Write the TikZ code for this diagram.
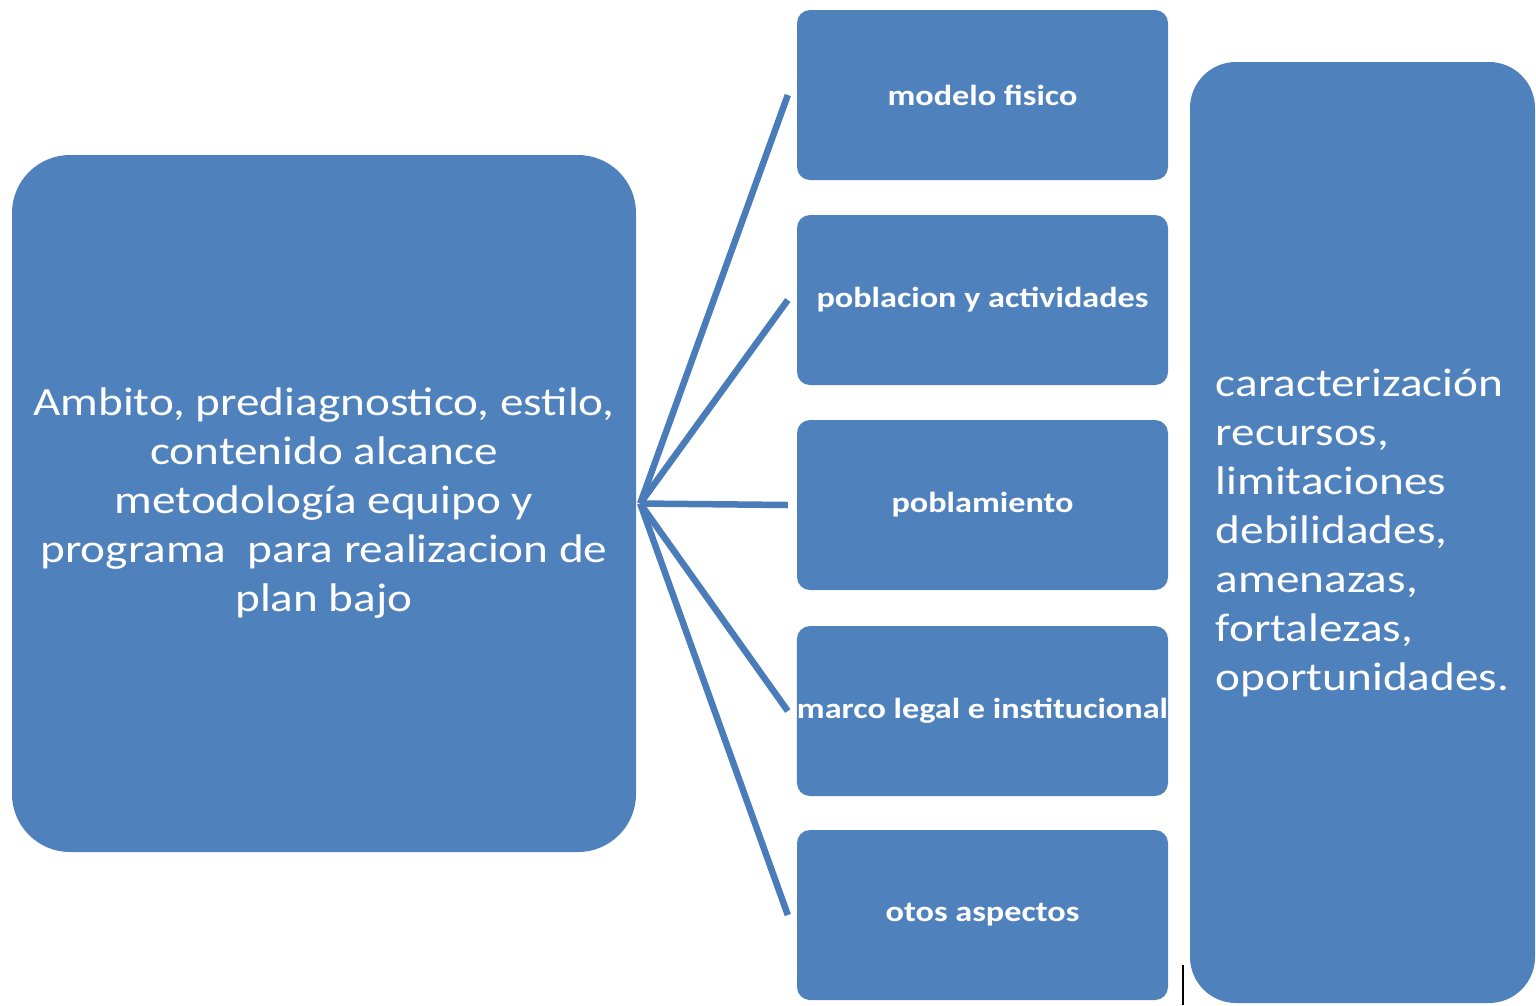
\documentclass[tikz,border=0pt]{standalone}
\usepackage{fontspec}
\setmainfont{Carlito}[FakeStretch=1.18]
\definecolor{boxblue}{HTML}{4F81BD}
\definecolor{lineblue}{HTML}{4A7CB9}
\begin{document}
\begin{tikzpicture}[x=1pt,y=-1pt,
  bigbox/.style={draw=none,fill=boxblue,text=white,rounded corners=58pt,inner sep=0pt,
    font=\fontsize{40}{49}\selectfont},
  smallbox/.style={draw=none,fill=boxblue,text=white,rounded corners=13pt,inner sep=0pt,
    minimum width=371pt,minimum height=170pt,font=\fontsize{29}{35}\selectfont\bfseries},
  conn/.style={draw=lineblue,line width=6.5pt}]
\useasboundingbox (0,0) rectangle (1536,1005);
\node[bigbox,minimum width=624pt,minimum height=697pt,align=center] (left) at (324,503.5)
  {Ambito, prediagnostico, estilo,\\contenido alcance\\metodología equipo y\\programa\ \ para realizacion de\\plan bajo};
\node[smallbox] (b1) at (982.5,95) {modelo fisico};
\node[smallbox] (b2) at (982.5,300) {\raisebox{-4pt}{poblacion y actividades}};
\node[smallbox] (b3) at (982.5,505) {poblamiento};
\node[smallbox] (b4) at (982.5,711) {marco legal e institucional};
\node[smallbox] (b5) at (982.5,915) {otos aspectos};
\node[bigbox,rounded corners=46pt,minimum width=345pt,minimum height=941pt,align=left] (right) at (1362.5,532.5)
  {caracterización\\recursos,\\limitaciones\\debilidades,\\amenazas,\\fortalezas,\\oportunidades.};
\coordinate (hub) at ([xshift=4pt]left.east);
\foreach \b in {b1,b2,b3,b4,b5}{
  \draw[conn] (hub) -- ([xshift=-9pt]\b.west);
}
\coordinate (tickTop) at (1183,965);
\coordinate (tickBot) at (1183,1005);
\draw[black,line width=2pt] (tickTop) -- (tickBot);
\end{tikzpicture}
\end{document}
